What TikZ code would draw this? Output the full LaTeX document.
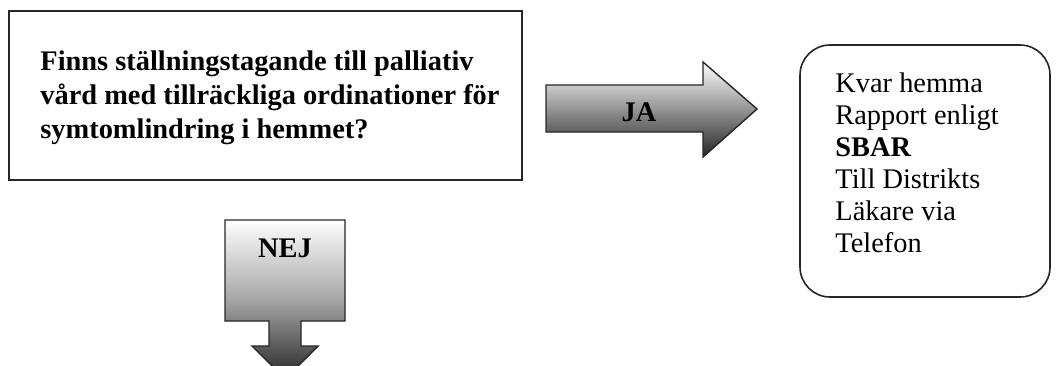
\documentclass[tikz,border=0pt]{standalone}
\usepackage{fontspec}
\setmainfont{Liberation Serif}
\usetikzlibrary{positioning}

\begin{document}
\begin{tikzpicture}[x=0.5pt,y=-0.5pt,
    ram/.style={draw=black!85,line width=0.8pt},
    pil/.style={draw=black!85,line width=0.7pt,top color=white,bottom color=black!85},
    txt/.style={inner sep=0pt,align=left}]
    \useasboundingbox (0,0) rectangle (1058,365);
    \clip (0,0) rectangle (1058,365);
    % fraga
    \draw[ram] (9,11) rectangle (522,180);
    \node[txt,font=\fontsize{14.2}{17}\selectfont\bfseries,anchor=north west] (fraga) at (40,50)
        {Finns ställningstagande till palliativ\\vård med tillräckliga ordinationer för\\symtomlindring i hemmet?};
    % ja
    \draw[pil] (546,85)--(703,85)--(703,62)--(757,109)--(703,157)--(703,132)--(546,132)--cycle;
    \node[font=\fontsize{14.2}{17}\selectfont\bfseries,anchor=base] (ja) at (639,121) {JA};
    % svar
    \draw[ram,rounded corners=15pt] (800,45) rectangle (1050,297);
    \node[txt,font=\fontsize{14.2}{16}\selectfont,anchor=north west] (svar) at (835,72)
        {Kvar hemma\\Rapport enligt\\\textbf{SBAR}\\Till Distrikts\\Läkare via\\Telefon};
    % nej
    \draw[pil,middle color=black!35] (225,220)--(345,220)--(345,321)--(301,321)--(301,346)--(318,346)
        --(285,379)--(252,346)--(269,346)--(269,321)--(225,321)--cycle;
    \node[font=\fontsize{14.2}{17}\selectfont\bfseries,anchor=base] (nej) at (285,257) {NEJ};
\end{tikzpicture}
\end{document}
